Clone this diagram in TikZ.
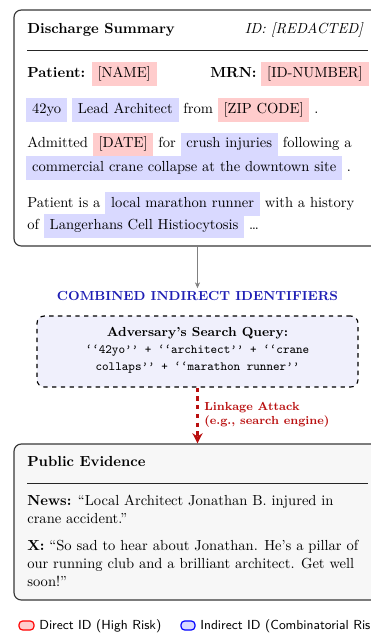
\documentclass[tikz,border=0pt]{standalone}
\usetikzlibrary{fit,arrows.meta}
\definecolor{redhl}{RGB}{255,204,204}
\definecolor{bluehl}{RGB}{217,217,255}
\definecolor{titleblue}{RGB}{30,30,180}
\definecolor{linkred}{RGB}{185,15,15}
\definecolor{boxline}{RGB}{55,55,55}
\definecolor{pubfill}{RGB}{247,247,247}
\definecolor{queryfill}{RGB}{240,240,252}
\newcommand\hlr[1]{{\setlength{\fboxsep}{0pt}\colorbox{redhl}{\hspace{4pt}\rule[-6pt]{0pt}{16pt}#1\hspace{4pt}}}}
\newcommand\hlb[1]{{\setlength{\fboxsep}{0pt}\colorbox{bluehl}{\hspace{4pt}\rule[-6pt]{0pt}{16pt}#1\hspace{4pt}}}}
\tikzset{
  panel/.style={inner sep=0pt, draw=boxline, thick, rounded corners=5pt},
  txt/.style={inner sep=0pt, anchor=base west},
  rulel/.style={draw=black!85, line width=0.6pt},
  swatch/.style={inner sep=0pt, thick, rounded corners=2.5pt},
  legtxt/.style={inner sep=0pt, anchor=base west, font=\small\sffamily},
  qtt/.style={inner sep=0pt, anchor=base, font=\fontsize{8.6pt}{11pt}\selectfont\ttfamily}
}
\begin{document}
\begin{tikzpicture}[x=0.6864pt, y=-0.6864pt]
\useasboundingbox (0,0) rectangle (371,633);
\clip (0,0) rectangle (371,633);
% discharge summary panel
\node[panel, fill=white, fit={(14,10) (381,246)}] (doc) {};
\node[txt] (hdr) at (27,33) {\textbf{Discharge Summary}};
\node[txt, anchor=base east] (hid) at (364,33) {\textit{ID: [REDACTED]}};
\draw[rulel] (27,50) -- (368,50);
\node[txt] (l2) at (27,77) {\textbf{Patient:} \hlr{[NAME]}};
\node[txt] (l2b) at (210,77) {\textbf{MRN:} \hlr{[ID-NUMBER]}};
\node[txt] (l3) at (26,113) {\hlb{42yo} \hlb{Lead Architect} from \hlr{[ZIP CODE]} .};
\node[txt] (l4) at (27,147.5) {Admitted \hlr{[DATE]} for \hlb{crush injuries} following a};
\node[txt] (l5) at (26,171) {\hlb{commercial crane collapse at the downtown site} .};
\node[txt] (l6) at (27,207) {Patient is a \hlb{local marathon runner} with a history};
\node[txt] (l7) at (27,229) {of \hlb{Langerhans Cell Histiocytosis} \ldots};
% combined identifiers
\node[inner sep=2pt, font=\small\bfseries, text=titleblue] (combo) at (197.5,296) {COMBINED INDIRECT IDENTIFIERS};
\draw[gray, -{Stealth[length=4pt,width=3.5pt]}] (doc.south) -- (combo.north);
% query box
\node[inner sep=0pt, draw=black, thick, dashed, rounded corners=5pt, fill=queryfill, fit={(37,316) (358,387)}] (query) {};
\node[inner sep=0pt, anchor=base, font=\small\bfseries] (qt) at (197.5,336.7) {Adversary’s Search Query:};
\node[qtt] (q1) at (197.5,353.3) {‘‘42yo’’ + ‘‘architect’’ + ‘‘crane};
\node[qtt] (q2) at (197.5,370) {collaps’’ + ‘‘marathon runner’’};
% public evidence
\node[panel, fill=pubfill, fit={(14,444) (381,600)}] (pub) {};
\draw[linkred, line width=1.6pt, dashed, -{Stealth[length=7pt,width=7pt]}] (query.south) -- (pub.north);
\node[inner sep=0pt, anchor=west, align=left, font=\footnotesize\bfseries, text=linkred] (lbl) at (204,415) {Linkage Attack\\(e.g., search engine)};
\node[txt] (ph) at (27,466.7) {\textbf{Public Evidence}};
\draw[rulel] (27,483.5) -- (368,483.5);
\node[txt] (p1) at (27,505) {\textbf{News:} “Local Architect Jonathan B. injured in};
\node[txt] (p2) at (27,523.3) {crane accident.”};
\node[txt] (p3) at (27,550.7) {\textbf{X:} “So sad to hear about Jonathan. He’s a pillar of};
\node[txt] (p4) at (27,568.3) {our running club and a brilliant architect. Get well};
\node[txt] (p5) at (27,586) {soon!”};
% legend
\node[swatch, draw=red, fill=redhl, fit={(19,621) (34,630)}] (sw1) {};
\node[legtxt] (lg1) at (39,629.5) {Direct ID (High Risk)};
\node[swatch, draw=blue, fill=bluehl, fit={(181,621) (195,630)}] (sw2) {};
\node[legtxt] (lg2) at (200,629.5) {Indirect ID (Combinatorial Risk)};
\end{tikzpicture}
\end{document}
